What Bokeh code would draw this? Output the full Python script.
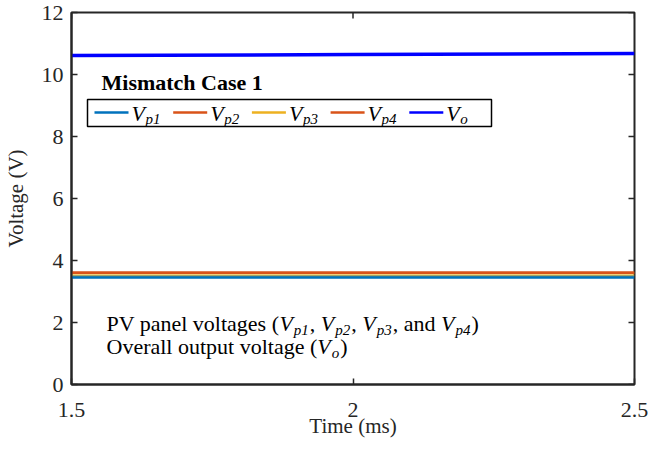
import math
from bokeh.plotting import figure
from bokeh.models import Label, BoxAnnotation, FixedTicker, Range1d
from bokeh.embed import file_html
from bokeh.resources import INLINE

# ---- data ----
time_ms = [1.5, 2.0, 2.5]
vp1 = [3.47, 3.47, 3.47]
vp2 = [3.62, 3.62, 3.62]
vp3 = [3.54, 3.54, 3.54]
vp4 = [3.60, 3.60, 3.60]
vo = [10.61, 10.645, 10.68]
series_subs = ["p1", "p2", "p3", "p4", "o"]
series_colors = ["#0072BD", "#D95319", "#EDB120", "#D95319", "#0000FF"]
x_ticks = [1.5, 2, 2.5]
x_tick_labels = ["1.5", "2", "2.5"]
y_ticks = [0, 2, 4, 6, 8, 10, 12]

SERIF = "Liberation Serif"
AX = "#262626"

# frame geometry in page pixels (canvas starts at page x=8, y=-4)
PX_L, PX_R, PX_T, PX_B = 70, 633, 12, 384
CANVAS_X, CANVAS_Y = 8, -4
X0, X1, Y0, Y1 = 1.5, 2.5, 0.0, 12.0

p = figure(frame_width=PX_R - PX_L, frame_height=PX_B - PX_T,
           x_range=Range1d(X0, X1), y_range=Range1d(Y0, Y1),
           output_backend="svg", toolbar_location=None,
           min_border_left=PX_L - CANVAS_X, min_border_right=14,
           min_border_top=PX_T - CANVAS_Y, min_border_bottom=55,
           margin=(CANVAS_Y, 0, 0, 0),
           x_axis_label="Time (ms)", y_axis_label="Voltage (V)")
p.xgrid.visible = False
p.ygrid.visible = False
p.outline_line_color = AX
p.outline_line_width = 2
p.background_fill_color = "white"
p.border_fill_color = "white"

def style_axis(ax):
    ax.axis_line_color = AX
    ax.axis_line_width = 2
    ax.major_tick_line_color = AX
    ax.major_tick_line_width = 1.5
    ax.major_tick_in = 6
    ax.major_tick_out = 0
    ax.minor_tick_line_color = None
    ax.major_label_text_font = SERIF
    ax.major_label_text_font_size = "22px"
    ax.major_label_text_color = AX
    ax.axis_label_text_font = SERIF
    ax.axis_label_text_font_size = "21px"
    ax.axis_label_text_font_style = "normal"
    ax.axis_label_text_color = AX

xlab = {t: s for t, s in zip(x_ticks, x_tick_labels)}
for ax in p.xaxis:
    ax.ticker = FixedTicker(ticks=x_ticks)
    ax.major_label_overrides = xlab
    style_axis(ax)
    ax.major_label_standoff = 18
    ax.axis_label_standoff = -6
for ax in p.yaxis:
    ax.ticker = FixedTicker(ticks=y_ticks)
    style_axis(ax)
    ax.major_label_standoff = 8
    ax.axis_label_standoff = 11

# mirrored inward ticks on the top and right edges (clipped to the frame)
p.scatter(x_ticks, [Y1] * len(x_ticks), marker="dash", size=12, angle=math.pi / 2,
          line_color=AX, line_width=1.5)
p.scatter([X1] * len(y_ticks), y_ticks, marker="dash", size=12,
          line_color=AX, line_width=1.5)

# ---- series ----
p.line(time_ms, vp1, line_color=series_colors[0], line_width=3.5)
p.line(time_ms, vp2, line_color=series_colors[1], line_width=2)
p.line(time_ms, vp3, line_color=series_colors[2], line_width=3, line_alpha=0.6)
p.line(time_ms, vp4, line_color=series_colors[3], line_width=2)
p.line(time_ms, vo, line_color=series_colors[4], line_width=3.5)

# ---- helpers: page pixel -> data coordinates (for annotations) ----
def dx(px):
    return X0 + (px - PX_L) / (PX_R - PX_L) * (X1 - X0)

def dy(py):
    return Y0 + (PX_B - py) / (PX_B - PX_T) * (Y1 - Y0)

def put(text, px, py, size, style="normal", color="black"):
    # py is the wanted baseline (page px); compensate the label's baseline shift
    p.add_layout(Label(x=dx(px), y=dy(py - 0.33 * size), text=text, text_font=SERIF,
                       text_font_size=f"{size}px", text_font_style=style,
                       text_color=color, text_baseline="alphabetic",
                       text_align="left"))

# Times metrics (per 1000 em)
REG = {' ': 250, '(': 333, ')': 333, ',': 250, 'P': 556, 'V': 722, 'O': 722,
       'a': 444, 'd': 500, 'e': 444, 'g': 500, 'l': 278, 'n': 500, 'o': 500,
       'p': 500, 'r': 333, 's': 389, 't': 278, 'u': 500, 'v': 500}
ITA = {'V': 611, 'p': 500, 'o': 500, '1': 500, '2': 500, '3': 500, '4': 500}

def width(text, size, table):
    return sum(table.get(c, 500) for c in text) * size / 1000.0

# ---- legend ----
put("Mismatch Case 1", 100, 89, 22, "bold")
p.add_layout(BoxAnnotation(left=dx(86), right=dx(490), top=dy(99), bottom=dy(126),
                           fill_color="white", fill_alpha=1.0,
                           line_color="black", line_alpha=1.0, line_width=1.5))
for i, (sub, col) in enumerate(zip(series_subs, series_colors)):
    x0 = 93 + i * 78.7
    p.add_layout(BoxAnnotation(left=dx(x0), right=dx(x0 + 34), top=dy(110.8),
                               bottom=dy(113.2), fill_color=col, fill_alpha=1.0,
                               line_color=None))
    put("V", x0 + 37, 120, 22, "italic")
    put(sub, x0 + 37 + 14, 123, 15, "italic")

# ---- annotation text ----
def rich_line(pieces, px, py):
    x = px
    for txt, kind in pieces:
        if kind == "r":
            put(txt, x, py, 22)
            x += width(txt, 22, REG)
        elif kind == "i":
            put(txt, x, py, 22, "italic")
            x += width(txt, 22, ITA) + 1
        else:
            put(txt, x, py + 4, 15, "italic")
            x += width(txt, 15, ITA) + 1

line1 = [("PV panel voltages (", "r")]
for k, sub in enumerate(series_subs[:4]):
    line1 += [("V", "i"), (sub, "s")]
    line1.append((", " if k < 2 else (", and " if k == 2 else ")"), "r"))
rich_line(line1, 105, 330)
rich_line([("Overall output voltage (", "r"), ("V", "i"), ("o", "s"), (")", "r")], 105, 353)

open("out.html", "w").write(file_html(p, INLINE))
